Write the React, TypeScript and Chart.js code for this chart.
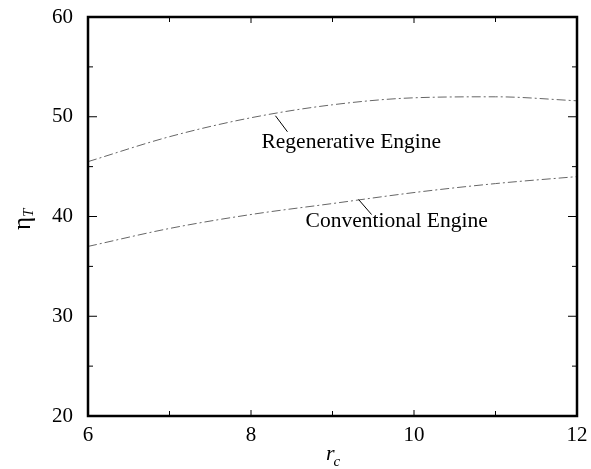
import React, { useEffect, useRef } from "react";
import { Chart, registerables } from "chart.js";

Chart.register(...registerables);

const compressionRatios = [6, 7, 8, 9, 10, 11, 12];
const regenerativeEff = [45.5, 48.0, 49.9, 51.2, 51.9, 52.0, 51.6];
const conventionalEff = [37.0, 38.8, 40.2, 41.3, 42.4, 43.3, 44.0];
const seriesNames = ["Regenerative Engine", "Conventional Engine"];
const xTickLabels = [6, 8, 10, 12];
const yTickLabels = [20, 30, 40, 50, 60];

const FONT = "'Liberation Serif', 'Times New Roman', serif";

const decorPlugin = {
  id: "decor",
  afterDraw(chart: any) {
    const { ctx, chartArea: a, scales } = chart;
    const xs = scales.x;
    const ys = scales.y;
    ctx.save();
    ctx.strokeStyle = "#000";
    ctx.lineWidth = 1;
    for (let v = 7; v <= 11; v += 1) {
      const px = xs.getPixelForValue(v);
      const len = v % 2 === 0 ? 6 : 5;
      ctx.beginPath();
      ctx.moveTo(px, a.bottom);
      ctx.lineTo(px, a.bottom - len);
      ctx.moveTo(px, a.top);
      ctx.lineTo(px, a.top + len);
      ctx.stroke();
    }
    for (let v = 25; v <= 55; v += 5) {
      const py = ys.getPixelForValue(v);
      const len = v % 10 === 0 ? 9 : 5;
      ctx.beginPath();
      ctx.moveTo(a.left, py);
      ctx.lineTo(a.left + len, py);
      ctx.moveTo(a.right, py);
      ctx.lineTo(a.right - len, py);
      ctx.stroke();
    }
    ctx.lineWidth = 2.5;
    ctx.strokeRect(a.left, a.top, a.right - a.left, a.bottom - a.top);

    // annotations
    ctx.fillStyle = "#000";
    ctx.font = `21.5px ${FONT}`;
    ctx.textBaseline = "alphabetic";
    ctx.textAlign = "left";
    ctx.lineWidth = 1;
    const r1x = xs.getPixelForValue(8.3);
    const r1y = ys.getPixelForValue(50.1);
    ctx.beginPath();
    ctx.moveTo(r1x, r1y);
    ctx.lineTo(r1x + 12, r1y + 16);
    ctx.stroke();
    ctx.fillText(seriesNames[0], r1x - 14, r1y + 32);

    const c1x = xs.getPixelForValue(9.32);
    const c1y = ys.getPixelForValue(41.7);
    ctx.beginPath();
    ctx.moveTo(c1x, c1y);
    ctx.lineTo(c1x + 13, c1y + 15);
    ctx.stroke();
    ctx.fillText(seriesNames[1], c1x - 53, c1y + 27);

    // axis titles
    ctx.font = `italic 22px ${FONT}`;
    const rW = ctx.measureText("r").width;
    const xt = 326;
    ctx.fillText("r", xt, 460);
    ctx.font = `italic 15px ${FONT}`;
    ctx.fillText("c", xt + rW - 1, 466);

    ctx.translate(30, 220);
    ctx.rotate(-Math.PI / 2);
    ctx.font = `25px ${FONT}`;
    const eW = ctx.measureText("η").width;
    ctx.fillText("η", -10, 0);
    ctx.font = `italic 15px ${FONT}`;
    ctx.fillText("T", -10 + eW, 3);
    ctx.restore();
  },
};

export default function App() {
  const ref = useRef<HTMLCanvasElement>(null);
  useEffect(() => {
    document.body.style.margin = "0";
    const mk = (label: string, vals: number[]) => ({
      label,
      data: compressionRatios.map((x, i) => ({ x, y: vals[i] })),
      borderColor: "#666",
      borderWidth: 1,
      borderDash: [9, 3, 2, 3],
      pointRadius: 0,
      tension: 0.4,
      cubicInterpolationMode: "monotone" as const,
    });
    const chart = new Chart(ref.current!, {
      type: "line",
      data: {
        datasets: [mk(seriesNames[0], regenerativeEff), mk(seriesNames[1], conventionalEff)],
      },
      options: {
        animation: false,
        responsive: false,
        layout: { padding: { left: 0, right: 14, top: 17, bottom: 0 } },
        plugins: { legend: { display: false }, tooltip: { enabled: false } },
        scales: {
          x: {
            type: "linear",
            min: 6,
            max: 12,
            afterFit: (s: any) => { s.height = 53; s.paddingLeft = 0; s.paddingRight = 0; },
            afterBuildTicks: (s: any) => { s.ticks = xTickLabels.map((v) => ({ value: v })); },
            grid: { display: false, drawTicks: false },
            border: { display: false },
            ticks: { color: "#000", padding: 7, font: { family: FONT, size: 21 }, maxRotation: 0 },
          },
          y: {
            type: "linear",
            min: 20,
            max: 60,
            afterFit: (s: any) => { s.width = 88; s.paddingTop = 0; s.paddingBottom = 0; },
            afterBuildTicks: (s: any) => { s.ticks = yTickLabels.map((v) => ({ value: v })); },
            grid: { display: false, drawTicks: false },
            border: { display: false },
            ticks: { color: "#000", padding: 15, font: { family: FONT, size: 21 } },
          },
        },
      },
      plugins: [decorPlugin],
    });
    return () => chart.destroy();
  }, []);
  return <canvas ref={ref} width={591} height={469} style={{ display: "block" }} />;
}
